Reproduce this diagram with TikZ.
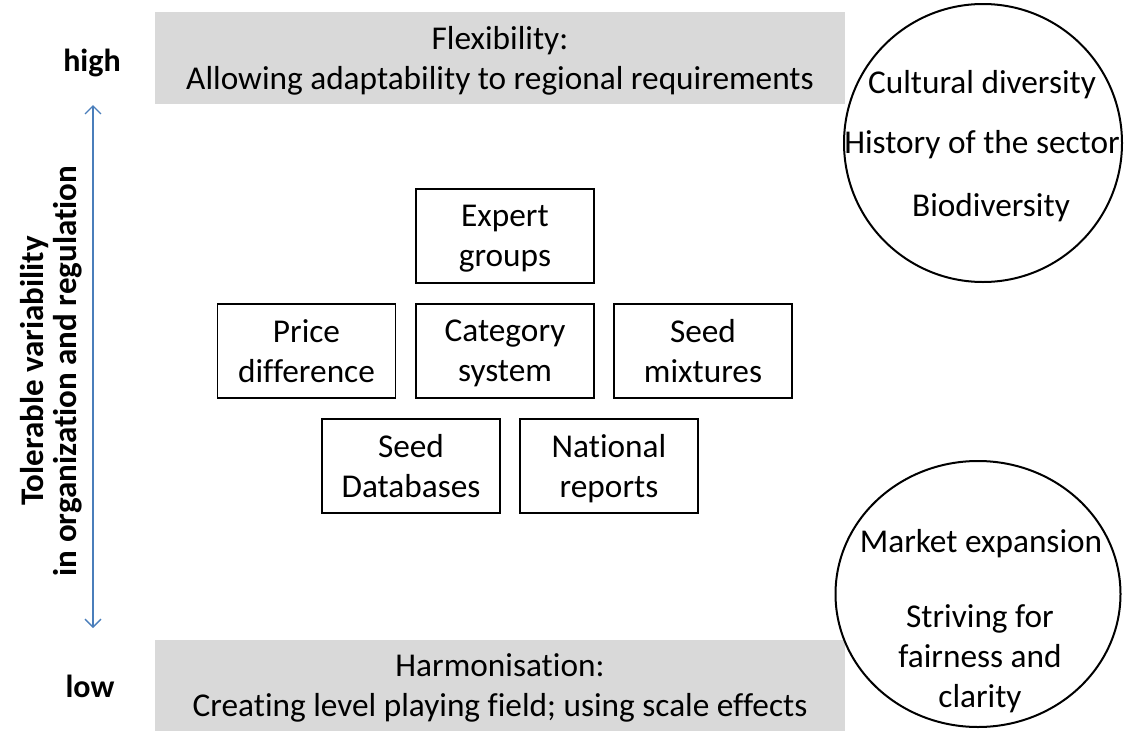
\documentclass[tikz,border=0pt]{standalone}
\usepackage{fontspec}
\setmainfont[Ligatures=NoCommon]{Carlito}
\usetikzlibrary{arrows.meta,shapes.geometric}
\definecolor{barfill}{HTML}{D9D9D9}
\definecolor{arrowblue}{HTML}{4A7EBB}
\begin{document}
\begin{tikzpicture}[x=1pt,y=-1pt,
  every node/.style={font=\fontsize{33.3}{40}\selectfont, inner sep=0pt, align=center},
  greybar/.style={fill=barfill, minimum width=690pt, minimum height=92pt, text depth=0pt},
  itembox/.style={draw, line width=1.3pt, minimum width=178pt, minimum height=94pt, text depth=0pt},
  ring/.style={draw, line width=2pt},
  axislabel/.style={font=\bfseries\fontsize{32}{36}\selectfont},
  ctext/.style={anchor=base}
]
\useasboundingbox (0,0) rectangle (1128,731);

% grey bars
\node[greybar] (flex) at (500,58) {Flexibility:\\Allowing adaptability to regional requirements};
\node[greybar, minimum height=91pt] (harm) at (500,685.5) {Harmonisation:\\Creating level playing field; using scale effects};

% axis
\node[axislabel] (high) at (92,63) {high};
\node[axislabel] (low) at (90,686) {low};
\coordinate (atop) at (93,105);
\coordinate (abot) at (93,628);
\draw[arrowblue, line width=1.3pt, {Straight Barb[length=8pt,width=16pt]}-{Straight Barb[length=8pt,width=16pt]}] (atop) -- (abot);
\node[rotate=90, font=\bfseries\fontsize{33}{33}\selectfont] (axis) at (51.5,371) {Tolerable variability\\in organization and regulation};

% boxes
\node[itembox] (expert) at (505,236) {Expert\\groups};
\node[itembox] (price) at (306.5,351) {Price\\difference};
\node[itembox] (cat) at (505,351) {Category\\system};
\node[itembox] (mix) at (703,351) {Seed\\mixtures};
\node[itembox] (db) at (411,466) {Seed\\Databases};
\node[itembox] (nat) at (609,466) {National\\reports};

% circles
\node[ring, circle, minimum size=278pt] (c1) at (983,143) {};
\node[ctext] (cult) at (982,93) {Cultural diversity};
\node[ctext] (hist) at (982,153) {History of the sector};
\node[ctext] (bio) at (991,216) {Biodiversity};

\node[ring, ellipse, minimum width=285pt, minimum height=266pt] (c2) at (978,594) {};
\node[ctext] (market) at (981,552) {Market expansion};
\node[text depth=0pt] (fair) at (980,656) {Striving for\\fairness and\\clarity};
\end{tikzpicture}
\end{document}
